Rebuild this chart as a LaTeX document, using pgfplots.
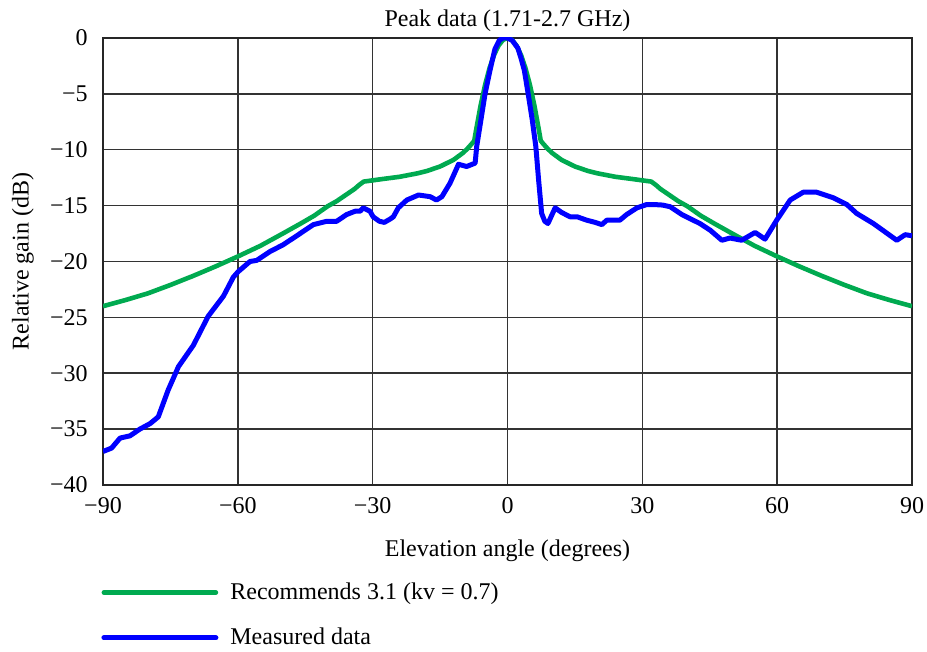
\documentclass[border=0pt,12pt]{standalone}
\usepackage{fontspec}
\setmainfont{Liberation Serif}
\usepackage{pgfplots}
\pgfplotsset{compat=1.18}
\definecolor{recgreen}{RGB}{0,170,80}
\definecolor{measblue}{RGB}{0,0,255}
\begin{document}
\begin{tikzpicture}
\begin{axis}[
  scale only axis,
  width=404.5pt, height=223.5pt,
  xmin=-90, xmax=90, ymin=-40, ymax=0,
  xtick={-90,-60,-30,0,30,60,90},
  xticklabels={−90,−60,−30,0,30,60,90},
  ytick={-40,-35,-30,-25,-20,-15,-10,-5,0},
  yticklabels={−40,−35,−30,−25,−20,−15,−10,−5,0},
  major tick length=0pt,
  grid=major,
  grid style={black!80, line width=0.75pt},
  axis line style={black!85, line width=1pt},
  xticklabel style={yshift=-2pt},
  yticklabel style={xshift=-3.5pt},
  title={Peak data (1.71-2.7 GHz)},
  every axis title/.style={at={(axis description cs:0.5,1)}, anchor=base, yshift=5.5pt, inner sep=0pt},
  xlabel={Elevation angle (degrees)},
  xlabel style={at={(axis description cs:0.5,0)}, anchor=north, yshift=-23pt},
  ylabel={Relative gain (dB)},
  every axis y label/.style={at={(axis description cs:0,0.5)}, rotate=90, anchor=center, yshift=40pt},
  legend style={at={(axis description cs:0,0)}, anchor=north west, yshift=-46.5pt, xshift=-1pt,
    draw=none, fill=none, inner sep=0pt, row sep=8.5pt,
    /tikz/every odd column/.append style={column sep=4pt}},
  legend cell align=left,
  legend image code/.code={\draw[#1,line cap=round] (0pt,0pt) -- (56pt,0pt);},
]
\addplot[recgreen, line width=2.3pt, line join=round] table {
-90 -24.0
-85 -23.45
-80 -22.85
-75 -22.1
-70 -21.3
-65 -20.45
-60 -19.55
-55 -18.6
-50 -17.5
-46 -16.6
-43 -15.9
-40 -15.05
-38 -14.6
-36 -14.05
-34 -13.5
-33 -13.15
-32 -12.85
-28 -12.63
-24 -12.42
-20 -12.11
-18 -11.91
-15 -11.50
-12 -10.90
-10 -10.31
-9 -9.94
-8 -9.49
-7.4 -9.2
-7 -8.27
-6 -6.08
-5 -4.22
-4 -2.70
-3 -1.52
-2 -0.68
-1 -0.17
0 0
1 -0.17
2 -0.68
3 -1.52
4 -2.70
5 -4.22
6 -6.08
7 -8.27
7.4 -9.2
8 -9.49
9 -9.94
10 -10.31
12 -10.90
15 -11.50
18 -11.91
20 -12.11
24 -12.42
28 -12.63
32 -12.85
33 -13.15
34 -13.5
36 -14.05
38 -14.6
40 -15.05
43 -15.9
46 -16.6
50 -17.5
55 -18.6
60 -19.55
65 -20.45
70 -21.3
75 -22.1
80 -22.85
85 -23.45
90 -24.0
};
\addlegendentry{Recommends 3.1 (kv = 0.7)}
\addplot[measblue, line width=2.5pt, line join=round] table {
-90 -37.0
-88.1 -36.7
-86.2 -35.8
-84.0 -35.6
-81.8 -35.0
-79.5 -34.5
-77.7 -33.9
-75.5 -31.5
-73.2 -29.4
-69.9 -27.5
-66.6 -24.9
-63.2 -23.1
-61.0 -21.4
-59.9 -20.9
-57.3 -20.0
-55.8 -19.9
-52.8 -19.1
-49.9 -18.5
-46.9 -17.7
-43.2 -16.7
-40.2 -16.4
-38.0 -16.4
-35.8 -15.8
-33.9 -15.5
-32.8 -15.5
-32.1 -15.2
-30.6 -15.5
-29.9 -16.0
-28.5 -16.4
-27.4 -16.5
-26.1 -16.2
-25.4 -16.0
-24.3 -15.2
-22.4 -14.5
-19.8 -14.05
-17.2 -14.2
-15.8 -14.5
-14.6 -14.2
-12.8 -13.0
-10.9 -11.3
-9.1 -11.5
-7.2 -11.2
-6.85 -9.7
-5.9 -7.3
-5.0 -5.0
-3.9 -2.9
-2.8 -1.0
-1.8 -0.2
-1.0 0.0
0.0 0.0
1.0 -0.2
2.3 -0.9
3.0 -1.8
3.75 -2.9
4.6 -5.0
5.5 -7.3
6.3 -9.7
6.9 -12.6
7.6 -15.7
8.3 -16.4
9.0 -16.6
10.6 -15.2
12.0 -15.6
13.9 -16.0
15.5 -16.0
17.6 -16.3
19.5 -16.5
21.0 -16.7
22.1 -16.3
23.5 -16.3
25.0 -16.3
26.5 -15.8
28.8 -15.2
31.0 -14.9
32.5 -14.9
34.5 -14.95
36.2 -15.1
38.8 -15.8
42.8 -16.6
45.1 -17.2
47.7 -18.1
49.5 -17.9
52.1 -18.1
55.1 -17.4
57.3 -18.0
59.9 -16.3
62.9 -14.5
65.8 -13.8
68.8 -13.8
72.5 -14.3
75.5 -14.9
77.7 -15.7
81.4 -16.6
86.6 -18.1
88.5 -17.6
90 -17.7
};
\addlegendentry{Measured data}
\end{axis}
\pgfresetboundingbox
\path[use as bounding box] (current axis.south west) ++(-51.5pt,-83pt) rectangle ([shift={(7.5pt,19pt)}]current axis.north east);
\end{tikzpicture}
\end{document}
